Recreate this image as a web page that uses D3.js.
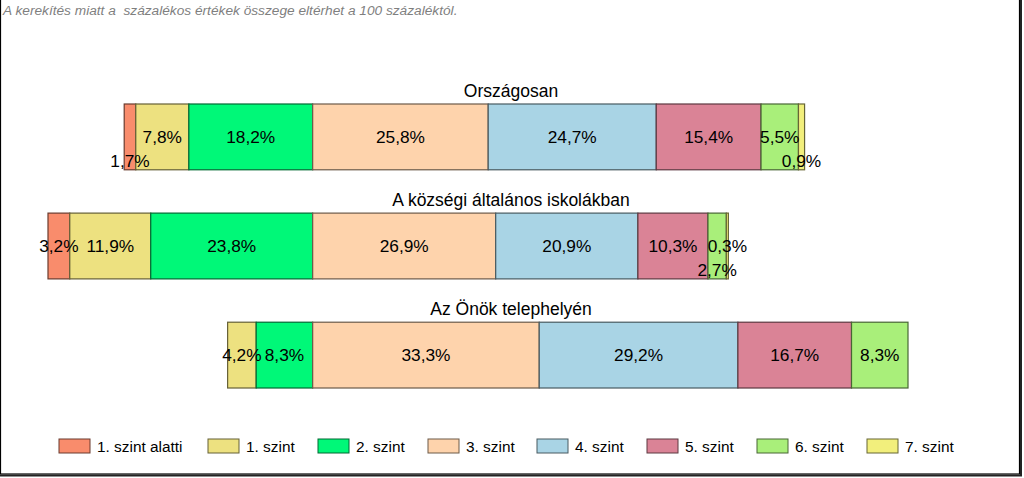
<!DOCTYPE html>
<html><head><meta charset="utf-8">
<script src="https://cdn.jsdelivr.net/npm/d3@7/dist/d3.min.js"></script>
<style>html,body{margin:0;padding:0;background:#fff;}svg{display:block;}</style>
</head><body>
<script>
const categories = ["Országosan", "A községi általános iskolákban", "Az Önök telephelyén"];
const seriesNames = ["1. szint alatti", "1. szint", "2. szint", "3. szint", "4. szint", "5. szint", "6. szint", "7. szint"];
const seriesColors = ["#F98C6C", "#EDE180", "#00F878", "#FED3AC", "#A9D4E5", "#DA8396", "#A9EF7A", "#F2EF7C"];
const orszagosan = [1.7, 7.8, 18.2, 25.8, 24.7, 15.4, 5.5, 0.9];
const kozsegi = [3.2, 11.9, 23.8, 26.9, 20.9, 10.3, 2.7, 0.3];
const onok = [0, 4.2, 8.3, 33.3, 29.2, 16.7, 8.3, 0];
const note = "A kerekítés miatt a  százalékos értékek összege eltérhet a 100 százaléktól.";

const values = [orszagosan, kozsegi, onok];
// label layout tweaks (which small labels sit lower)
const lowered = {0: [0, 7], 1: [6]};

const W = 1024, H = 478;
const svg = d3.select("body").append("svg").attr("width", W).attr("height", H);

// frame
svg.append("rect").attr("x", 0.5).attr("y", -1).attr("width", 1019).attr("height", 475)
  .attr("fill", "#fff").attr("stroke", "#000").attr("stroke-width", 1.2);
svg.append("line").attr("x1", 1021).attr("x2", 1021).attr("y1", 0).attr("y2", 476).attr("stroke", "#222").attr("stroke-width", 2);
svg.append("line").attr("x1", 0).attr("x2", 1022).attr("y1", 475.5).attr("y2", 475.5).attr("stroke", "#222").attr("stroke-width", 2);

svg.append("text").attr("x", 3).attr("y", 15).attr("font-family", "Liberation Sans, Arial, sans-serif")
  .attr("font-style", "italic").attr("font-size", 13.7).attr("fill", "#7f7f7f")
  .attr("xml:space", "preserve").style("white-space", "pre").text(note);

// stacked with anchor between 2. and 3. szint
const rows = values.map((v, i) => {
  const offset = -(v[0] + v[1] + v[2]);
  let acc = offset;
  return v.map((d, j) => { const s = {row: i, idx: j, v: d, x0: acc, x1: acc + d}; acc += d; return s; });
});
const minX = d3.min(rows, r => r[0].x0), maxX = d3.max(rows, r => r[r.length - 1].x1);
const x = d3.scaleLinear().domain([minX, maxX]).range([48, 908]);
const y = d3.scaleBand().domain(categories).range([104, 388]).paddingInner(0.397).paddingOuter(0);

const font = "Liberation Sans, Arial, sans-serif";

categories.forEach((c, i) => {
  svg.append("text").attr("x", 511).attr("y", y(c) - 7).attr("text-anchor", "middle")
    .attr("font-family", font).attr("font-size", 17.5).attr("fill", "#000").text(c);
  const g = svg.append("g");
  const segs = rows[i].filter(s => s.v > 0);
  g.selectAll("rect").data(segs).join("rect")
    .attr("x", s => x(s.x0)).attr("width", s => x(s.x1) - x(s.x0))
    .attr("y", y(c)).attr("height", y.bandwidth())
    .attr("fill", s => seriesColors[s.idx])
    .attr("stroke", s => d3.color(seriesColors[s.idx]).darker(2.4)).attr("stroke-width", 1.2);
  g.selectAll("text").data(segs).join("text")
    .attr("x", s => (x(s.x0) + x(s.x1)) / 2)
    .attr("y", s => y(c) + y.bandwidth() / 2 + 6 + ((lowered[i] || []).includes(s.idx) ? 24 : 0))
    .attr("text-anchor", "middle").attr("font-family", font).attr("font-size", 17.3).attr("fill", "#000")
    .text(s => d3.format(".1f")(s.v).replace(".", ",") + "%");
});

// legend
const legX = [59, 208, 318, 428, 537, 647, 757, 867];
const lg = svg.append("g");
seriesNames.forEach((n, i) => {
  lg.append("rect").attr("x", legX[i]).attr("y", 439).attr("width", 31).attr("height", 14)
    .attr("fill", seriesColors[i]).attr("stroke", d3.color(seriesColors[i]).darker(2.4)).attr("stroke-width", 1);
  lg.append("text").attr("x", legX[i] + 38).attr("y", 452).attr("font-family", font).attr("font-size", 15.4)
    .attr("fill", "#000").text(n);
});
</script>
</body></html>
